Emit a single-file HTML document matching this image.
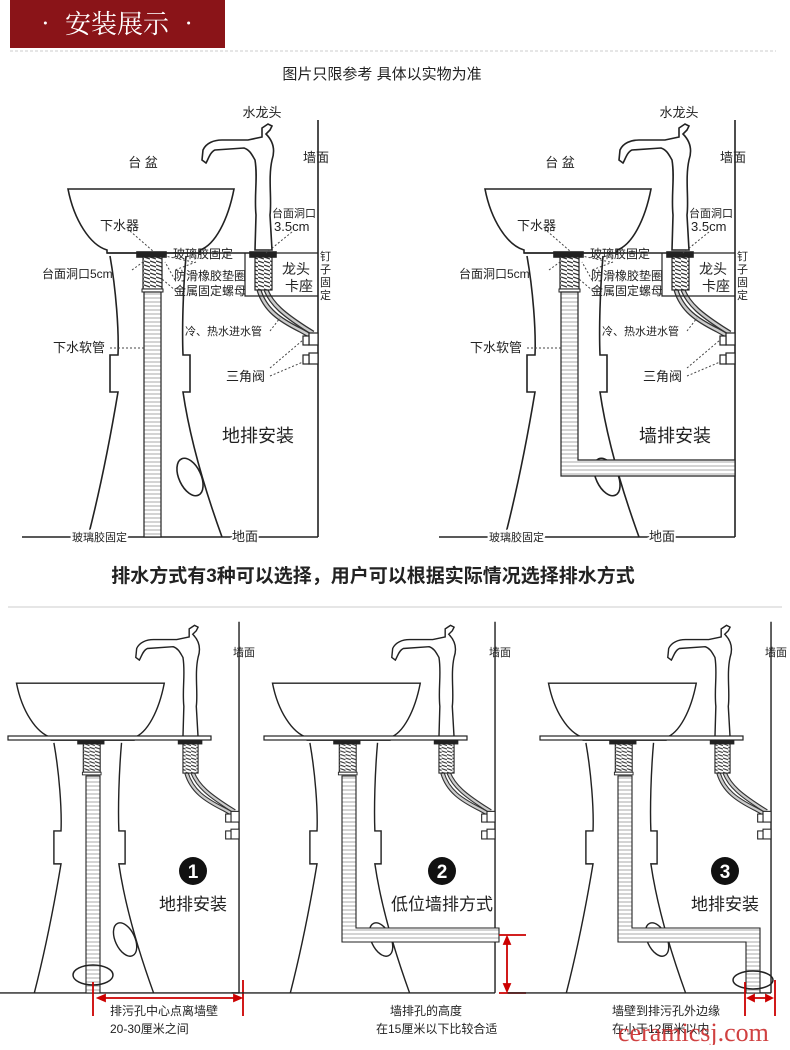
<!DOCTYPE html>
<html><head><meta charset="utf-8"><style>
body{margin:0;background:#fff;}
svg text{font-family:"Liberation Sans","Noto Sans CJK SC",sans-serif;fill:#222;}
</style></head><body>
<svg width="790" height="1045" viewBox="0 0 790 1045" xmlns="http://www.w3.org/2000/svg">
<defs>
<pattern id="stripe" width="4" height="4" patternUnits="userSpaceOnUse">
<rect width="4" height="4" fill="#fff"/><line x1="0" y1="2" x2="4" y2="2" stroke="#aaa" stroke-width="1"/></pattern>
<pattern id="thread" width="6" height="4" patternUnits="userSpaceOnUse">
<rect width="6" height="4" fill="#fff"/><line x1="0" y1="1" x2="6" y2="3" stroke="#333" stroke-width="1.3"/></pattern>
<g id="sink" stroke="#222" stroke-width="1.6" fill="#fff">
 <path d="M68,189 L234,189 C228,220 215,245 200,250 L200,253 L107,253 L107,250 C90,245 74,220 68,189 Z"/>
 <path d="M110,256 C116,290 119,330 118,355 L110,355 L110,392 L118,392 C110,440 100,490 88,537" fill="none"/>
 <path d="M186,256 C183,290 182,330 183,355 L190,355 L190,392 L183,392 C190,440 205,490 222,537" fill="none"/>
 <line x1="318" y1="120" x2="318" y2="537"/>
 <line x1="22" y1="537" x2="318" y2="537"/>
 <ellipse cx="190" cy="477" rx="11" ry="20" transform="rotate(-25 190 477)" fill="none"/>
 <path d="M255,250 L256,215 C254,195 258,178 255,160 C252,155 250,150 244,148 L215,150 C210,152 208,160 206,163 L202,160 L203,150 C206,143 214,140 222,140 L248,140 L262,137 L262,128 L268,124 L272,126 L270,130 L266,134 C272,140 276,148 272,160 C268,178 272,200 270,215 L272,250 Z"/>
 <path d="M259,290 C265,310 280,320 300,330 L309,335" fill="none" stroke-width="5" stroke="#333"/>
 <path d="M259,290 C265,310 280,320 300,330 L309,335" fill="none" stroke-width="2.5" stroke="#ccc"/>
 <path d="M266,290 C272,305 285,315 305,328 L313,333" fill="none" stroke-width="5" stroke="#333"/>
 <path d="M266,290 C272,305 285,315 305,328 L313,333" fill="none" stroke-width="2.5" stroke="#ccc"/>
 <rect x="309" y="333" width="9" height="12" stroke-width="1.2"/>
 <rect x="303" y="336" width="6" height="9" stroke-width="1.2"/>
 <rect x="309" y="353" width="9" height="11" stroke-width="1.2"/>
 <rect x="303" y="355" width="6" height="9" stroke-width="1.2"/>
 <rect x="250" y="252" width="26" height="5" fill="#222"/>
 <rect x="255" y="257" width="17" height="33" fill="url(#thread)" stroke-width="1.2"/>
 <rect x="137" y="252" width="29" height="5" fill="#222"/>
 <rect x="143" y="257" width="19" height="32" fill="url(#thread)" stroke-width="1.2"/>
 <rect x="142" y="289" width="21" height="3" stroke-width="1"/>
</g>
</defs>

<rect x="10" y="0" width="215" height="48" fill="#8a1418"/>
<text x="117" y="33" text-anchor="middle" font-size="26" style="fill:#fff;font-family:'Noto Serif CJK SC','Liberation Serif',serif">• 安装展示 •</text>
<line x1="10" y1="51" x2="776" y2="51" stroke="#ddd" stroke-width="1.5" stroke-dasharray="3 2"/>
<text x="382" y="79" text-anchor="middle" font-size="15">图片只限参考 具体以实物为准</text>

<use href="#sink"/>
<line x1="107" y1="253" x2="250" y2="253" stroke="#222" stroke-width="1.5"/>
<line x1="276" y1="253" x2="318" y2="253" stroke="#222" stroke-width="1.2"/>
<polyline points="245,253 245,296 318,296" fill="none" stroke="#222" stroke-width="1.2"/>
<rect x="144" y="292" width="17" height="245" fill="url(#stripe)" stroke="#222" stroke-width="1.2"/>
<g font-size="12">
<text x="262" y="117" text-anchor="middle" font-size="13">水龙头</text>
<text x="303" y="162" font-size="13">墙面</text>
<text x="143" y="167" text-anchor="middle" font-size="13">台 盆</text>
<text x="100" y="230" font-size="13">下水器</text>
<text x="173" y="258">玻璃胶固定</text>
<text x="42" y="278">台面洞口5cm</text>
<text x="174" y="280">防滑橡胶垫圈</text>
<text x="174" y="295">金属固定螺母</text>
<text x="272" y="217" font-size="11">台面洞口</text>
<text x="274" y="231" font-size="13">3.5cm</text>
<text x="282" y="274" font-size="14">龙头</text>
<text x="285" y="291" font-size="14">卡座</text>
<text x="320" y="260" font-size="11">钉</text><text x="320" y="273" font-size="11">子</text><text x="320" y="286" font-size="11">固</text><text x="320" y="299" font-size="11">定</text>
<text x="185" y="335" font-size="11">冷、热水进水管</text>
<text x="53" y="352" font-size="13">下水软管</text>
<text x="226" y="381" font-size="13">三角阀</text>
<text x="222" y="442" font-size="18">地排安装</text>
<text x="72" y="541" font-size="11" style="paint-order:stroke;stroke:#fff;stroke-width:4">玻璃胶固定</text>
<text x="232" y="541" font-size="13" style="paint-order:stroke;stroke:#fff;stroke-width:4">地面</text>
</g>
<g stroke="#444" stroke-width="1" stroke-dasharray="2 2" fill="none">
<line x1="130" y1="231" x2="154" y2="252"/><line x1="193" y1="262" x2="165" y2="256"/>
<line x1="196" y1="262" x2="175" y2="270"/><line x1="175" y1="280" x2="165" y2="262"/><line x1="176" y1="291" x2="162" y2="279"/>
<line x1="132" y1="270" x2="143" y2="262"/><line x1="292" y1="232" x2="266" y2="253"/>
<line x1="110" y1="348" x2="144" y2="348"/><line x1="270" y1="331" x2="280" y2="318"/>
<line x1="270" y1="368" x2="303" y2="340"/><line x1="270" y1="376" x2="303" y2="362"/>
</g>

<g transform="translate(417 0)"><use href="#sink"/>
<line x1="107" y1="253" x2="250" y2="253" stroke="#222" stroke-width="1.5"/>
<line x1="276" y1="253" x2="318" y2="253" stroke="#222" stroke-width="1.2"/>
<polyline points="245,253 245,296 318,296" fill="none" stroke="#222" stroke-width="1.2"/>
<path d="M144,292 L161,292 L161,460 L318,460 L318,476 L144,476 Z" fill="url(#stripe)" stroke="#222" stroke-width="1.2"/>
<g font-size="12">
<text x="262" y="117" text-anchor="middle" font-size="13">水龙头</text>
<text x="303" y="162" font-size="13">墙面</text>
<text x="143" y="167" text-anchor="middle" font-size="13">台 盆</text>
<text x="100" y="230" font-size="13">下水器</text>
<text x="173" y="258">玻璃胶固定</text>
<text x="42" y="278">台面洞口5cm</text>
<text x="174" y="280">防滑橡胶垫圈</text>
<text x="174" y="295">金属固定螺母</text>
<text x="272" y="217" font-size="11">台面洞口</text>
<text x="274" y="231" font-size="13">3.5cm</text>
<text x="282" y="274" font-size="14">龙头</text>
<text x="285" y="291" font-size="14">卡座</text>
<text x="320" y="260" font-size="11">钉</text><text x="320" y="273" font-size="11">子</text><text x="320" y="286" font-size="11">固</text><text x="320" y="299" font-size="11">定</text>
<text x="185" y="335" font-size="11">冷、热水进水管</text>
<text x="53" y="352" font-size="13">下水软管</text>
<text x="226" y="381" font-size="13">三角阀</text>
<text x="222" y="442" font-size="18">墙排安装</text>
<text x="72" y="541" font-size="11" style="paint-order:stroke;stroke:#fff;stroke-width:4">玻璃胶固定</text>
<text x="232" y="541" font-size="13" style="paint-order:stroke;stroke:#fff;stroke-width:4">地面</text>
</g>
<g stroke="#444" stroke-width="1" stroke-dasharray="2 2" fill="none">
<line x1="130" y1="231" x2="154" y2="252"/><line x1="193" y1="262" x2="165" y2="256"/>
<line x1="196" y1="262" x2="175" y2="270"/><line x1="175" y1="280" x2="165" y2="262"/><line x1="176" y1="291" x2="162" y2="279"/>
<line x1="132" y1="270" x2="143" y2="262"/><line x1="292" y1="232" x2="266" y2="253"/>
<line x1="110" y1="348" x2="144" y2="348"/><line x1="270" y1="331" x2="280" y2="318"/>
<line x1="270" y1="368" x2="303" y2="340"/><line x1="270" y1="376" x2="303" y2="362"/>
</g></g>

<text x="373" y="582" text-anchor="middle" font-size="19" font-weight="bold">排水方式有3种可以选择，用户可以根据实际情况选择排水方式</text>
<line x1="8" y1="607" x2="782" y2="607" stroke="#ddd" stroke-width="1.5"/>

<g id="bp1">
<g transform="translate(-44 515) scale(0.89)"><use href="#sink"/></g>
<rect x="8" y="736" width="203" height="4" fill="#fff" stroke="#222" stroke-width="1.2"/>
</g>
<rect x="86" y="776" width="14" height="217" fill="url(#stripe)" stroke="#222" stroke-width="1.1"/>
<ellipse cx="93" cy="975" rx="20" ry="10" fill="none" stroke="#222" stroke-width="1.5"/>
<circle cx="193" cy="871" r="14" fill="#111"/><text x="193" y="878" text-anchor="middle" font-size="19" font-weight="bold" style="fill:#fff">1</text>
<text x="193" y="910" text-anchor="middle" font-size="17">地排安装</text>
<text x="233" y="656" font-size="11">墙面</text>
<g stroke="#c00" stroke-width="1.8" fill="#c00">
<line x1="93" y1="982" x2="93" y2="1016"/><line x1="243" y1="980" x2="243" y2="1016"/>
<line x1="102" y1="998" x2="237" y2="998"/><path d="M98,998 l7,-3 v6 z M241,998 l-7,-3 v6 z"/></g>
<text x="110" y="1015" font-size="12">排污孔中心点离墙壁</text>
<text x="110" y="1033" font-size="12">20-30厘米之间</text>

<g transform="translate(256 0)">
<use href="#bp1"/>
<path d="M86,776 L100,776 L100,928 L243,928 L243,942 L86,942 Z" fill="url(#stripe)" stroke="#222" stroke-width="1.1"/>
<circle cx="186" cy="871" r="14" fill="#111"/><text x="186" y="878" text-anchor="middle" font-size="19" font-weight="bold" style="fill:#fff">2</text>
<text x="186" y="910" text-anchor="middle" font-size="17">低位墙排方式</text>
<text x="233" y="656" font-size="11">墙面</text>
<g stroke="#c00" stroke-width="1.8" fill="#c00">
<line x1="243" y1="935" x2="270" y2="935"/><line x1="243" y1="993" x2="270" y2="993"/>
<line x1="251" y1="940" x2="251" y2="988"/><path d="M251,937 l-3,7 h6 z M251,991 l-3,-7 h6 z"/></g>
<text x="134" y="1015" font-size="12">墙排孔的高度</text>
<text x="120" y="1033" font-size="12">在15厘米以下比较合适</text>
</g>

<g transform="translate(532 0)">
<use href="#bp1"/>
<path d="M86,776 L100,776 L100,928 L228,928 L228,993 L214,993 L214,942 L86,942 Z" fill="url(#stripe)" stroke="#222" stroke-width="1.1"/>
<ellipse cx="221" cy="980" rx="20" ry="9" fill="none" stroke="#222" stroke-width="1.5"/>
<circle cx="193" cy="871" r="14" fill="#111"/><text x="193" y="878" text-anchor="middle" font-size="19" font-weight="bold" style="fill:#fff">3</text>
<text x="193" y="910" text-anchor="middle" font-size="17">地排安装</text>
<text x="233" y="656" font-size="11">墙面</text>
<g stroke="#c00" stroke-width="1.8" fill="#c00">
<line x1="213" y1="982" x2="213" y2="1016"/><line x1="243" y1="980" x2="243" y2="1016"/>
<line x1="219" y1="998" x2="237" y2="998"/><path d="M216,998 l6,-3 v6 z M240,998 l-6,-3 v6 z"/></g>
<text x="80" y="1015" font-size="12">墙壁到排污孔外边缘</text>
<text x="80" y="1033" font-size="12">在小于12厘米以内</text>
</g>
<text x="618" y="1041" font-size="26" style="fill:#c82020;opacity:0.85;font-family:'Liberation Serif',serif">ceramicsj.com</text>
</svg>
</body></html>
